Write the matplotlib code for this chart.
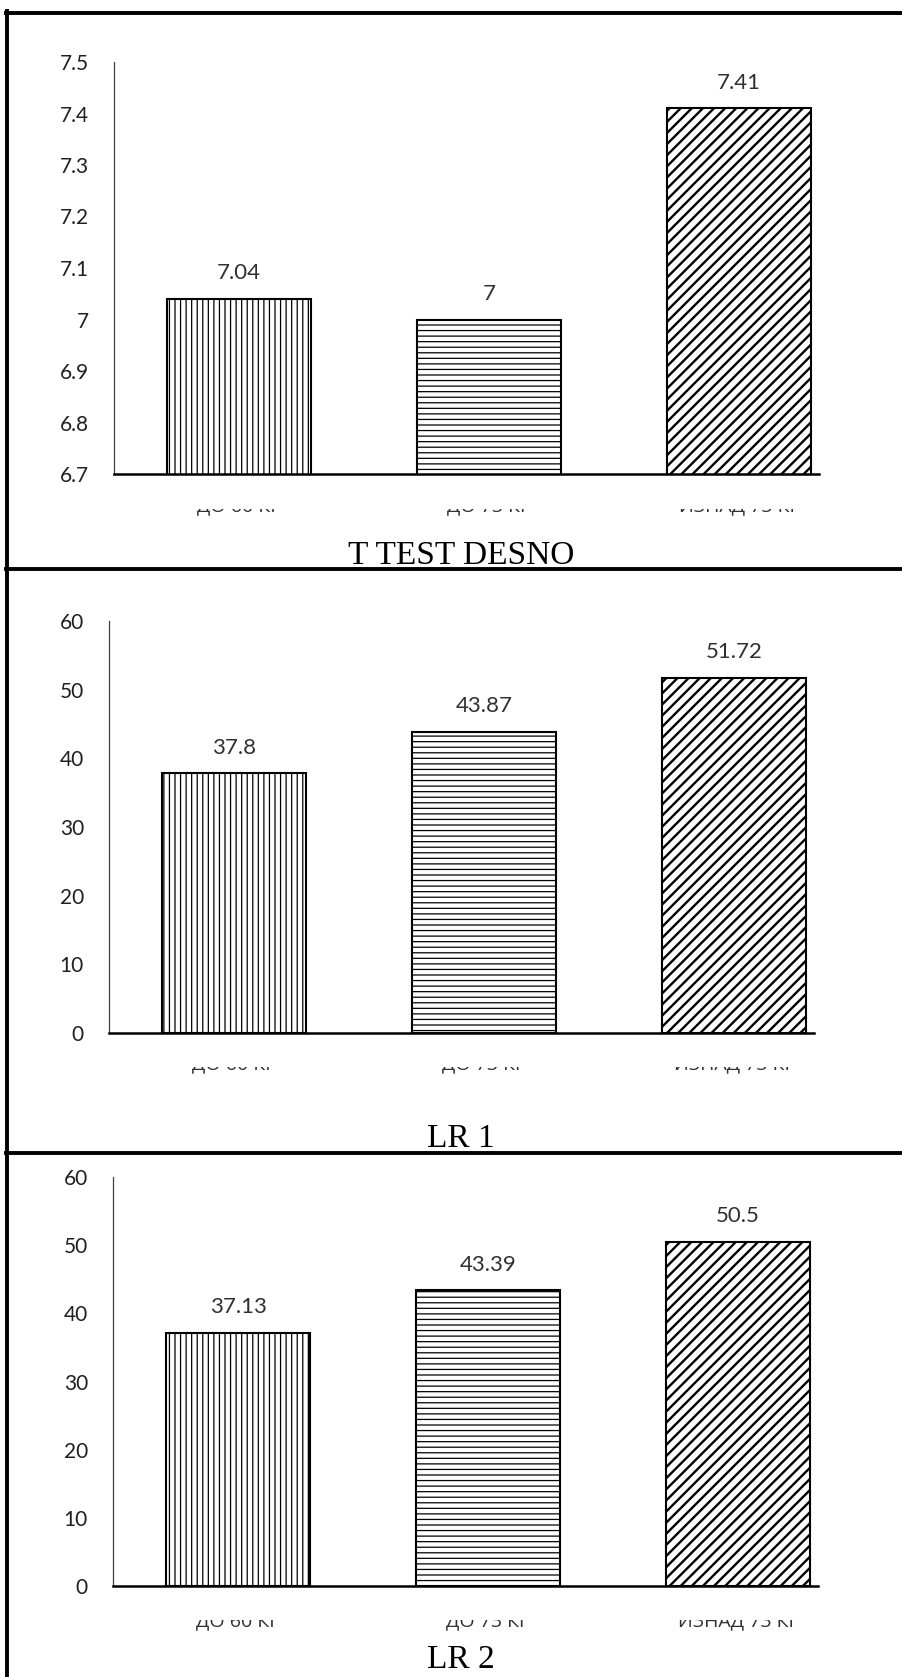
import matplotlib
matplotlib.use("Agg")
import matplotlib.pyplot as plt
from matplotlib.lines import Line2D
from matplotlib.transforms import Bbox, blended_transform_factory

# data
categories = ["ДО 60 КГ", "ДО 73 КГ", "ИЗНАД 73 КГ"]
t_test_desno = [7.04, 7.00, 7.41]
lr1 = [37.80, 43.87, 51.72]
lr2 = [37.13, 43.39, 50.50]
titles = ["T TEST DESNO", "LR 1", "LR 2"]
yticks_t = [6.7, 6.8, 6.9, 7.0, 7.1, 7.2, 7.3, 7.4, 7.5]
yticks_lr = [0, 10, 20, 30, 40, 50, 60]

W, H = 902, 1677
hatches = ["|||", "---", "///"]
hatch_lw = [0.9, 0.9, 1.7]
sans = ["Lato", "DejaVu Sans"]

fig = plt.figure(figsize=(W / 100, H / 100), dpi=100)

# pixel layout of each panel (measured on the reference)
panels = [
    dict(vals=t_test_desno, ticks=yticks_t, ylim=(6.7, 7.5), left=114, top=62, bottom=474,
         lab_base=511, clip_top=509, title_base=564),
    dict(vals=lr1, ticks=yticks_lr, ylim=(0, 60), left=109, top=621, bottom=1033,
         lab_base=1069, clip_top=1067, title_base=1147),
    dict(vals=lr2, ticks=yticks_lr, ylim=(0, 60), left=113, top=1177, bottom=1586,
         lab_base=1626, clip_top=1620, title_base=1668),
]

xlim = (-0.5, 2.32)
step = 250.0

for p, title in zip(panels, titles):
    width_px = (xlim[1] - xlim[0]) * step
    ax = fig.add_axes([p["left"] / W, 1 - p["bottom"] / H,
                       width_px / W, (p["bottom"] - p["top"]) / H])
    ax.set_xlim(*xlim)
    ax.set_ylim(*p["ylim"])

    xs = range(len(categories))
    bars = ax.bar(xs, p["vals"], width=0.576, color="white", edgecolor="black",
                  linewidth=1.5, zorder=2)
    for b, h, lw in zip(bars, hatches, hatch_lw):
        b.set_hatch(h)
        if hasattr(b, "set_hatch_linewidth"):
            b.set_hatch_linewidth(lw)

    for x, v in zip(xs, p["vals"]):
        ax.annotate(f"{v:g}", (x, v), xytext=(0, 14), textcoords="offset points",
                    ha="center", va="baseline", fontsize=16, color="#303030",
                    family=sans)

    ax.set_yticks(p["ticks"])
    ax.set_yticklabels([f"{t:g}" for t in p["ticks"]], fontsize=15, family=sans,
                       color="#202020")
    ax.tick_params(axis="y", length=0, pad=18)
    ax.set_xticks([])

    for s in ["top", "right"]:
        ax.spines[s].set_visible(False)
    ax.spines["left"].set_linewidth(0.9)
    ax.spines["left"].set_color("#404040")
    ax.spines["bottom"].set_linewidth(1.8)
    ax.spines["bottom"].set_color("black")

    # category labels, only their lower edge shows in the reference
    trans = blended_transform_factory(ax.transData, fig.transFigure)
    clip = Bbox.from_extents(0, 0, W, H - p["clip_top"])
    for x, c in zip(xs, categories):
        t = ax.text(x, 1 - p["lab_base"] / H, c, transform=trans, ha="center",
                    va="baseline", fontsize=14, family=["Open Sans", "DejaVu Sans"],
                    color="#303030")
        t.set_clip_box(clip)
        t.set_clip_on(True)

    fig.text(461 / W, 1 - p["title_base"] / H, title, ha="center", va="baseline",
             fontsize=24, family="Liberation Serif", color="black")

# frame: left edge, top edge and the two dividers
frame_lw = 2.8
fig.add_artist(Line2D([7.5 / W, 7.5 / W], [0, 1 - 11 / H], transform=fig.transFigure,
                      color="black", linewidth=frame_lw))
for y in [12.5, 569, 1153]:
    fig.add_artist(Line2D([6 / W, 1], [1 - y / H, 1 - y / H], transform=fig.transFigure,
                          color="black", linewidth=frame_lw))

fig.savefig("out.png", dpi=100, facecolor="white")
